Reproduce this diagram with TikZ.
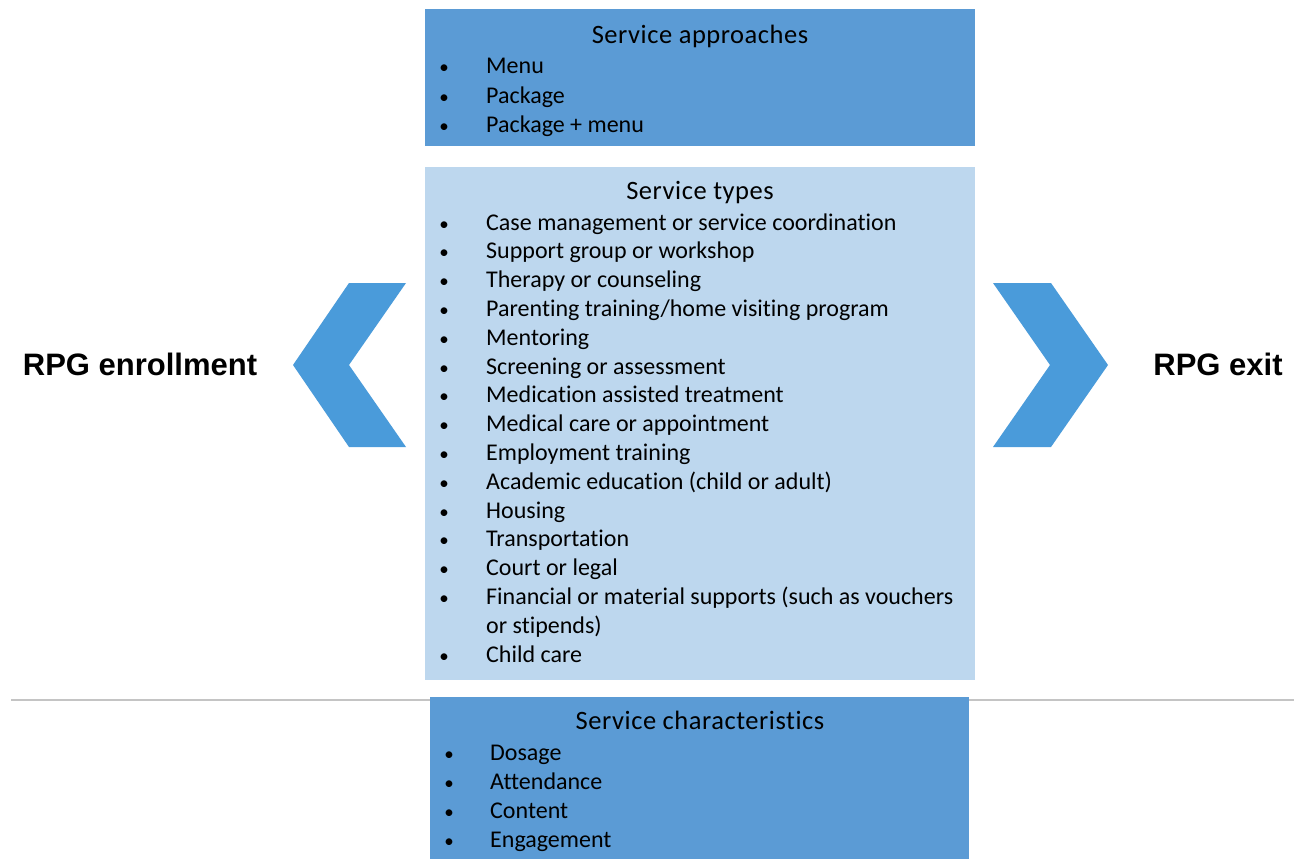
\documentclass[tikz,border=0pt]{standalone}
\usepackage{fontspec}
\setmainfont{Carlito}[Ligatures=NoCommon]
\newfontfamily\headfont{Liberation Sans}
\definecolor{boxdark}{HTML}{5B9BD5}
\definecolor{boxlight}{HTML}{BDD7EE}
\definecolor{chevblue}{HTML}{4A9BDA}
\definecolor{rulegray}{HTML}{C4C4C4}
\begin{document}
\begin{tikzpicture}[x=1pt,y=-1pt,
  panel/.style={anchor=north west,inner sep=0pt,outer sep=0pt},
  heading/.style={font=\fontsize{26.5}{30}\selectfont\addfontfeatures{LetterSpace=2},anchor=base,inner sep=0pt,text=black},
  item/.style={font=\fontsize{24}{28}\selectfont,anchor=base west,inner sep=0pt,text=black},
  dot/.style={font=\fontsize{19}{22}\selectfont,anchor=base,inner sep=0pt,text=black},
  side/.style={font=\headfont\bfseries\fontsize{31}{34}\selectfont,anchor=base,inner sep=0pt,text=black}]
\useasboundingbox (0,0) rectangle (1299,859);
\fill[white] (0,0) rectangle (1299,859);

% separator rule behind the bottom panel
\draw[rulegray,line width=1.2pt] (11,700) coordinate (ruleL) -- (1294,700) coordinate (ruleR);

% panels
\node[panel,fill=boxdark,minimum width=550pt,minimum height=137pt] (approach) at (425,9) {};
\node[panel,fill=boxlight,minimum width=550pt,minimum height=513pt] (types) at (425,167) {};
\node[panel,fill=boxdark,minimum width=539pt,minimum height=163pt] (chars) at (430,697) {};

% chevrons
\fill[chevblue] (349,283) -- (406,283) -- (349,365) -- (406,447) -- (349,447) -- (293,365) -- cycle;
\fill[chevblue] (993,283) -- (1051,283) -- (1108,365) -- (1051,447) -- (993,447) -- (1050,365) -- cycle;

% side labels
\node[side] (enroll) at (140,375) {RPG enrollment};
\node[side] (exit) at (1218,375) {RPG exit};

% service approaches
\node[heading] (approachT) at (700,44) {Service approaches};
\foreach \t [count=\i from 0] in {Menu,Package,Package + menu}{
  \node[dot] (ad\i) at (444,74+29*\i) {•};
  \node[item] (a\i) at (486,74+29*\i) {\t};
}

% service types
\node[heading] (typesT) at (700,199) {Service types};
\foreach \t [count=\i from 0] in {
  Case management or service coordination,
  Support group or workshop,
  Therapy or counseling,
  Parenting training/home visiting program,
  Mentoring,
  Screening or assessment,
  Medication assisted treatment,
  Medical care or appointment,
  Employment training,
  Academic education (child or adult),
  Housing,
  Transportation,
  Court or legal,
  Financial or material supports (such as vouchers}{
  \node[dot] (td\i) at (444,230+28.8*\i) {•};
  \node[item] (t\i) at (486,230+28.8*\i) {\t};
}
\node[item] (t14) at (486,633) {or stipends)};
\node[dot] (td15) at (444,662) {•};
\node[item] (t15) at (486,662) {Child care};

% service characteristics
\node[heading] (charsT) at (700,729) {Service characteristics};
\foreach \t [count=\i from 0] in {Dosage,Attendance,Content,Engagement}{
  \node[dot] (cd\i) at (449,760+29*\i) {•};
  \node[item] (c\i) at (490,760+29*\i) {\t};
}
\end{tikzpicture}
\end{document}
